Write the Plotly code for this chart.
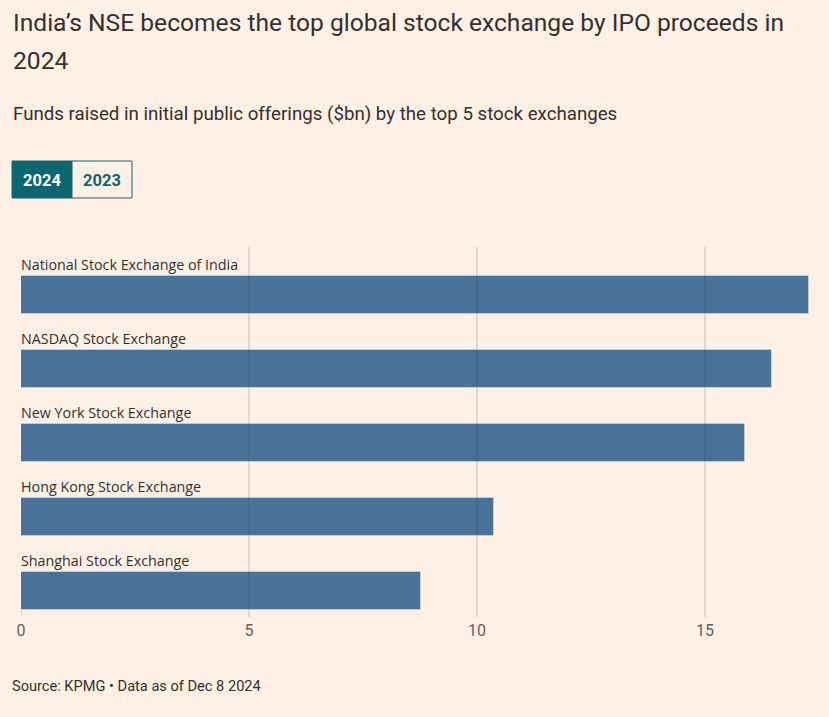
import plotly.graph_objects as go

exchanges = ["National Stock Exchange of India", "NASDAQ Stock Exchange", "New York Stock Exchange",
             "Hong Kong Stock Exchange", "Shanghai Stock Exchange"]
values_2024 = [17.28, 16.47, 15.88, 10.37, 8.77]
tick_vals = [0, 5, 10, 15]
tick_text = ["0", "5", "10", "15"]
years = ["2024", "2023"]
title_lines = ["India’s NSE becomes the top global stock exchange by IPO proceeds in", "2024"]

W, H = 829, 717
L, R, T, B = 21, 809, 247, 610
BG = "#fff1e5"
BAR = "#487299"
TEAL = "#0b6670"

def py(p):
    return (B - p) / (B - T)

def px(p):
    return (p - L) / (R - L)

idx = list(range(len(exchanges)))
bar_w = 0.5135

fig = go.Figure()
fig.add_trace(go.Bar(
    x=values_2024, y=idx, orientation="h", width=bar_w,
    marker=dict(color=BAR, line=dict(color="rgba(255,255,255,0.35)", width=1)),
    hoverinfo="x+text", text=exchanges, textposition="none",
))

annotations = []
for i, name in zip(idx, exchanges):
    annotations.append(dict(x=0, y=i - bar_w / 2, xref="x", yref="y", text=name,
                            showarrow=False, xanchor="left", yanchor="bottom",
                            xshift=-2, yshift=0,
                            font=dict(family="Open Sans", size=14.3, color="#33302e")))

for k, line in enumerate(title_lines):
    annotations.append(dict(x=px(11), y=py(22 + 38 * k), xref="paper", yref="paper",
                            xanchor="left", yanchor="middle", text=line, showarrow=False,
                            font=dict(family="Roboto", size=24.6, color="#33302e")))

annotations += [
    dict(x=px(11), y=py(114), xref="paper", yref="paper", xanchor="left", yanchor="middle",
         text="Funds raised in initial public offerings ($bn) by the top 5 stock exchanges",
         showarrow=False, font=dict(family="Roboto", size=18.7, color="#33302e")),
    dict(x=px(10), y=py(686), xref="paper", yref="paper", xanchor="left", yanchor="middle",
         text="Source: KPMG • Data as of Dec 8 2024",
         showarrow=False, font=dict(family="Roboto", size=14.6, color="#33302e")),
]

shapes = []
# toggle buttons
bx = [12, 72, 132]
for k, yr in enumerate(years):
    active = k == 0
    shapes.append(dict(type="rect", xref="paper", yref="paper",
                       x0=px(bx[k]), x1=px(bx[k + 1]), y0=py(198), y1=py(161),
                       fillcolor=TEAL if active else BG, line=dict(color=TEAL, width=1)))
    annotations.append(dict(x=px((bx[k] + bx[k + 1]) / 2), y=py(180), xref="paper", yref="paper",
                            text=f"<b>{yr}</b>", showarrow=False, xanchor="center", yanchor="middle",
                            font=dict(family="Roboto", size=16.5, color="white" if active else TEAL)))

# gridlines above bars
for v in tick_vals[1:]:
    shapes.append(dict(type="line", xref="x", yref="paper", x0=v, x1=v, y0=py(617), y1=1,
                       line=dict(color="rgba(80,60,50,0.28)", width=1), layer="above"))
shapes.append(dict(type="line", xref="x", yref="paper", x0=0, x1=0, y0=py(617), y1=py(610),
                   line=dict(color="rgba(80,60,50,0.28)", width=1), layer="above"))

fig.update_layout(
    width=W, height=H, paper_bgcolor=BG, plot_bgcolor=BG,
    margin=dict(l=L, r=W - R, t=T, b=H - B),
    showlegend=False, bargap=0,
    xaxis=dict(range=[0, values_2024[0]], tickvals=tick_vals, ticktext=tick_text,
               showgrid=False, zeroline=False, showline=False, ticks="",
               ticklabelstandoff=9,
               tickfont=dict(family="Roboto", size=16, color="#66605c"), fixedrange=True),
    yaxis=dict(range=[(B - 295) / 74, (T - 295) / 74], showticklabels=False,
               showgrid=False, zeroline=False, fixedrange=True),
    annotations=annotations, shapes=shapes,
)
fig.write_html("out.html")
